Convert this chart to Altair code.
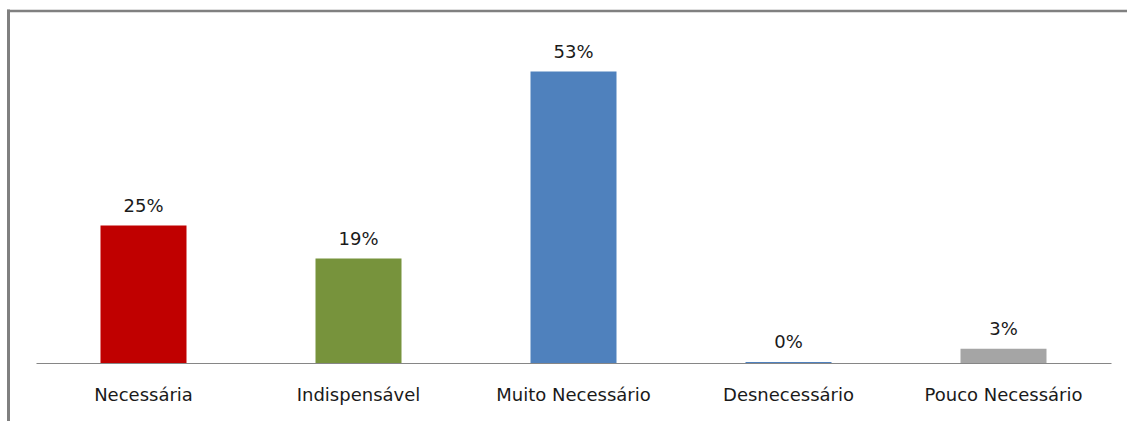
import altair as alt
import pandas as pd

categories = ["Necessária", "Indispensável", "Muito Necessário", "Desnecessário", "Pouco Necessário"]
values = [25, 19, 53, 0.2, 2.6]
value_labels = ["25%", "19%", "53%", "0%", "3%"]
colors = ["#C00000", "#77933C", "#4F81BD", "#4F81BD", "#A5A5A5"]

df = pd.DataFrame({"cat": categories, "val": values, "lab": value_labels, "col": colors})

FONT = "DejaVu Sans"

x = alt.X("cat:N", sort=categories, title=None,
          scale=alt.Scale(paddingInner=0.6, paddingOuter=0.3),
          axis=alt.Axis(labelAngle=0, ticks=False, domainColor="#868686", domainWidth=1,
                        labelFont=FONT, labelFontSize=18, labelColor="#1a1a1a",
                        labelPadding=23, grid=False))
y = alt.Y("val:Q", scale=alt.Scale(domain=[0, 60], nice=False), axis=None)

bars = alt.Chart(df).mark_bar().encode(x=x, y=y, color=alt.Color("col:N", scale=None))
texts = alt.Chart(df).mark_text(font=FONT, fontSize=18, color="#1a1a1a", baseline="alphabetic", dy=-14).encode(
    x=alt.X("cat:N", sort=categories), y="val:Q", text="lab:N")

frame_df = pd.DataFrame({"k": [0]})
left_line = alt.Chart(frame_df).mark_rule(color="#808080", strokeWidth=3).encode(
    x=alt.value(-27.5), y=alt.value(-23.5), y2=alt.value(400))
top_line = alt.Chart(frame_df).mark_rule(color="#808080", strokeWidth=2.5).encode(
    x=alt.value(-29), x2=alt.value(1091), y=alt.value(-22))

chart = alt.layer(bars, texts, left_line, top_line).properties(
    width=1075, height=330,
    background="white",
    padding={"left": 36, "top": 33, "right": 17, "bottom": 58},
    autosize=alt.AutoSizeParams(type="none"),
).configure_view(strokeWidth=0, stroke="transparent")

chart.save("out.html", embed_options={"renderer": "svg", "actions": False})
